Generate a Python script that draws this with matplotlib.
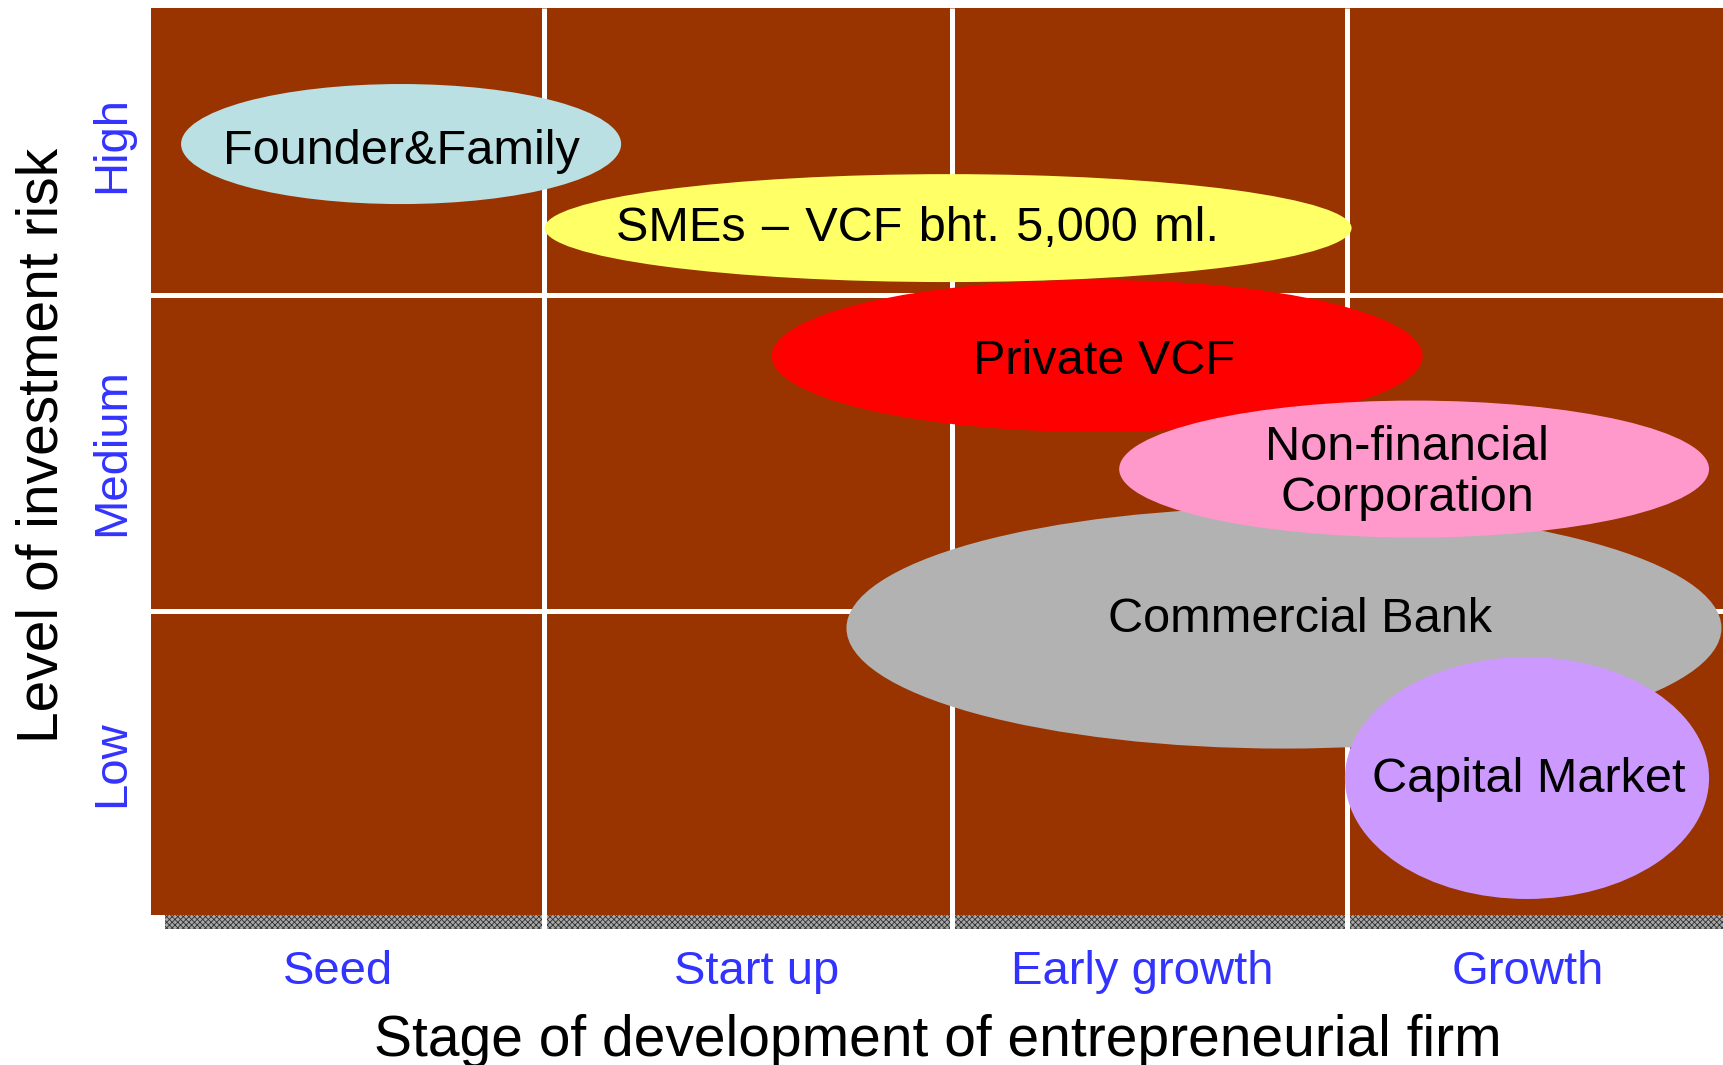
import matplotlib
matplotlib.use("Agg")
import matplotlib.pyplot as plt
from matplotlib.patches import Ellipse, Rectangle

plt.rcParams['font.family'] = ['Liberation Sans', 'DejaVu Sans']
plt.rcParams['hatch.linewidth'] = 0.6

# ---- data ----
stages = ['Seed', 'Start up', 'Early growth', 'Growth']
stage_tick_pos = [0.476, 1.539, 2.520, 3.502]
risk_levels = ['Low', 'Medium', 'High']
risk_tick_pos = [0.50, 1.53, 2.55]
stage_bounds = [0.999, 2.037, 3.041]
risk_bounds = [1.005, 2.051]

sources = ['Founder&Family', 'SMEs\u2004–\u2004VCF\u2004bht.\u20045,000\u2004ml.', 'Private VCF',
           'Commercial Bank', 'Non-financial\nCorporation', 'Capital Market']
src_x = [0.636, 2.027, 2.406, 2.881, 3.212, 3.499]
src_y = [2.550, 2.272, 1.849, 0.949, 1.475, 0.453]
src_w = [1.119, 2.052, 1.655, 2.225, 1.500, 0.926]
src_h = [0.397, 0.357, 0.503, 0.797, 0.453, 0.800]
label_x = [0.636, 1.950, 2.423, 2.921, 3.194, 3.504]
label_y = [2.527, 2.272, 1.832, 0.979, 1.462, 0.447]
src_colors = ['#BBE0E3', '#FFFF66', '#FF0000', '#B2B2B2', '#FF99CC', '#CC99FF']

W, H = 1724, 1065
fig = plt.figure(figsize=(W / 100, H / 100), dpi=100)
left, right, top, bottom = 151, 1724, 8, 915
ax = fig.add_axes([left / W, 1 - bottom / H, (right - left) / W, (bottom - top) / H])
ax.set_xlim(0, 4)
ax.set_ylim(0, 3)
ax.set_facecolor('#993300')
for s in ax.spines.values():
    s.set_visible(False)

# textured strip below plot
strip_h = 14 / 302.33
ax.add_patch(Rectangle((14 / 393.25, -strip_h), 4 - 14 / 393.25, strip_h,
                       facecolor='#A8A8A8', edgecolor='#303030', hatch='xxxxxx',
                       linewidth=0, clip_on=False, zorder=1))

# grid lines
for yb in risk_bounds:
    ax.axhline(yb, color='white', lw=3.6, zorder=2)
ax.vlines(stage_bounds, -strip_h, 3, colors='white', lw=3.6, zorder=2, clip_on=False)

# ellipses
for i, name in enumerate(sources):
    ax.add_patch(Ellipse((src_x[i], src_y[i]), src_w[i], src_h[i],
                         facecolor=src_colors[i], edgecolor='none', zorder=3 + i,
                         clip_on=False))
    ax.text(label_x[i], label_y[i], name, ha='center', va='center',
            fontsize=35, color='black', zorder=3 + i, linespacing=1.18)

ax.set_xticks(stage_tick_pos)
ax.set_xticklabels(stages, fontsize=34, color='#3333FF')
ax.set_yticks(risk_tick_pos)
ax.set_yticklabels(risk_levels, fontsize=34, color='#3333FF', rotation=90, va='center')
ax.tick_params(axis='x', length=0, pad=25)
ax.tick_params(axis='y', length=0, pad=12)

ax.set_xlabel('Stage of development of entrepreneurial firm', fontsize=41, va='baseline')
ax.xaxis.set_label_coords((938 - left) / (right - left), -(1056 - bottom) / (bottom - top))
ax.set_ylabel('Level of investment risk', fontsize=41, va='center')
ax.yaxis.set_label_coords((42 - left) / (right - left), (bottom - 445) / (bottom - top))

fig.savefig('out.png', dpi=100)
